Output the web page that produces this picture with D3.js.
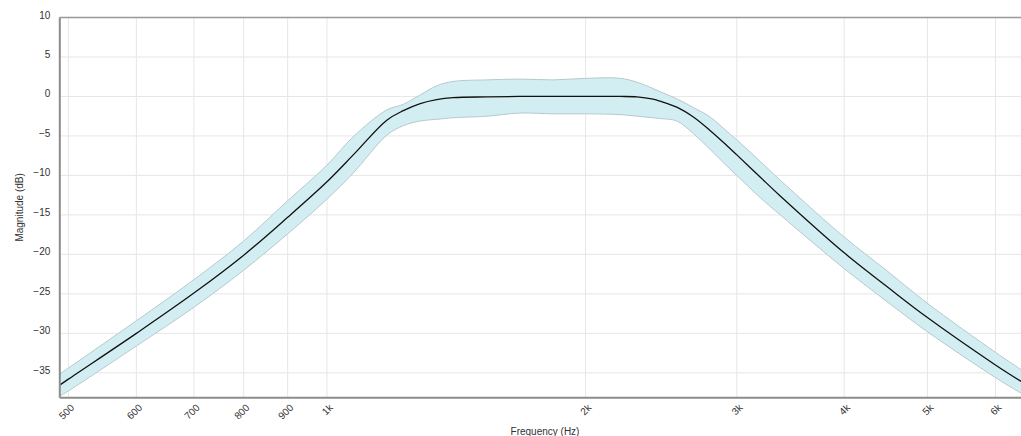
<!DOCTYPE html>
<html>
<head>
<meta charset="utf-8">
<script src="https://cdn.jsdelivr.net/npm/d3@7"></script>
<style>
  html, body { margin: 0; padding: 0; background: #fff; }
  svg { display: block; font-family: "Liberation Sans", Arial, sans-serif; }
</style>
</head>
<body>
<svg id="chart" width="1021" height="436"></svg>
<script>
// ---- data ----
const freqs   = [488, 500, 600, 700, 800, 900, 1000, 1073, 1174, 1227, 1284, 1342, 1402, 1535, 1678, 1833, 2008, 2194, 2296, 2397, 2443, 2554, 2670, 2792, 2920, 3000, 3193, 3370, 4000, 4489, 5000, 6000, 6430];
const meanDb  = [-36.6, -35.8, -30.0, -24.9, -20.1, -15.3, -10.8, -7.4, -3.0, -1.8, -0.9, -0.4, -0.15, -0.05, 0, 0, 0, 0, -0.05, -0.35, -0.6, -1.35, -2.6, -4.3, -6.2, -7.4, -10.2, -12.6, -19.8, -24.1, -28.0, -34.0, -36.1];
const upperDb = [-35.2, -34.4, -28.4, -23.2, -18.3, -13.2, -8.7, -5.1, -1.7, -1.0, 0.2, 1.35, 1.9, 2.1, 2.2, 2.1, 2.3, 2.3, 1.8, 1.0, 0.6, -0.3, -1.4, -2.6, -4.4, -5.5, -8.2, -10.6, -17.8, -22.1, -26.2, -32.4, -34.6];
const lowerDb = [-38.0, -37.3, -31.6, -26.7, -22.0, -17.4, -13.0, -9.7, -4.9, -3.7, -3.1, -2.9, -2.7, -2.5, -2.1, -2.2, -2.2, -2.3, -2.5, -2.7, -2.8, -3.1, -4.7, -6.7, -8.8, -10.0, -12.8, -15.0, -21.8, -26.0, -29.8, -35.6, -37.6];
const xTickValues = [500, 600, 700, 800, 900, 1000, 2000, 3000, 4000, 5000, 6000];
const xTickLabels = ["500", "600", "700", "800", "900", "1k", "2k", "3k", "4k", "5k", "6k"];
const yTickValues = [-35, -30, -25, -20, -15, -10, -5, 0, 5, 10];
const xTitle = "Frequency (Hz)";
const yTitle = "Magnitude (dB)";

// ---- layout ----
const W = 1021, H = 436;
const mLeft = 59.3, mTop = 17.5, mBottom = 397.3, rightRange = 1031;

const svg = d3.select("#chart");
const x = d3.scaleLog().domain([488, 6600]).range([mLeft, rightRange]);
const y = d3.scaleLinear().domain([-38.1, 10]).range([mBottom, mTop]);

const rows = freqs.map((f, i) => ({ f, m: meanDb[i], u: upperDb[i], l: lowerDb[i] }));

svg.append("defs").append("clipPath").attr("id", "plotclip")
  .append("rect").attr("x", mLeft).attr("y", mTop).attr("width", W - mLeft).attr("height", mBottom - mTop);

// grid
const grid = svg.append("g");
grid.selectAll("line.h").data(yTickValues).join("line")
  .attr("x1", mLeft).attr("x2", W)
  .attr("y1", d => y(d)).attr("y2", d => y(d))
  .attr("stroke", "#e6e6e6").attr("stroke-width", 1);
grid.selectAll("line.v").data(xTickValues).join("line")
  .attr("x1", d => x(d)).attr("x2", d => x(d))
  .attr("y1", mTop).attr("y2", mBottom)
  .attr("stroke", "#e6e6e6").attr("stroke-width", 1);

const plot = svg.append("g").attr("clip-path", "url(#plotclip)");

const curve = d3.curveCatmullRom.alpha(0.5);
const area = d3.area()
  .x(d => x(d.f)).y0(d => y(d.l)).y1(d => y(d.u))
  .curve(curve);
plot.append("path").datum(rows)
  .attr("d", area)
  .attr("fill", "#d3eef2").attr("stroke", "none");

const upLine = d3.line().x(d => x(d.f)).y(d => y(d.u)).curve(curve);
const loLine = d3.line().x(d => x(d.f)).y(d => y(d.l)).curve(curve);
plot.append("path").datum(rows).attr("d", upLine)
  .attr("fill", "none").attr("stroke", "#b4c9cc").attr("stroke-width", 1);
plot.append("path").datum(rows).attr("d", loLine)
  .attr("fill", "none").attr("stroke", "#b4c9cc").attr("stroke-width", 1);

const meanLine = d3.line().x(d => x(d.f)).y(d => y(d.m)).curve(curve);
plot.append("path").datum(rows).attr("d", meanLine)
  .attr("fill", "none").attr("stroke", "#111").attr("stroke-width", 1.3);

// border line on top
svg.append("line").attr("x1", mLeft).attr("x2", W).attr("y1", mTop).attr("y2", mTop)
  .attr("stroke", "#999").attr("stroke-width", 1.5);

// axes
const yAxis = d3.axisLeft(y).tickValues(yTickValues).tickSize(0).tickPadding(9);
const gy = svg.append("g").attr("transform", `translate(${mLeft},0)`).call(yAxis);
gy.select(".domain").attr("stroke", "#8c8c8c").attr("stroke-width", 2);
gy.selectAll(".tick text").attr("font-size", 10).attr("fill", "#333").attr("dy", "0.05em")
  .attr("font-family", "Liberation Sans, Arial, sans-serif");

const xAxis = d3.axisBottom(x).tickValues(xTickValues).tickSize(0)
  .tickFormat((d, i) => xTickLabels[i]);
const gx = svg.append("g").attr("transform", `translate(0,${mBottom})`).call(xAxis);
gx.select(".domain").attr("stroke", "#8c8c8c").attr("stroke-width", 2);
gx.selectAll(".tick text")
  .attr("font-size", 10).attr("fill", "#333")
  .attr("font-family", "Liberation Sans, Arial, sans-serif")
  .attr("text-anchor", "end")
  .attr("x", 0).attr("y", 0).attr("dy", 0)
  .attr("transform", "translate(6,11) rotate(-45)");

// titles
svg.append("text").attr("x", 545).attr("y", 435)
  .attr("text-anchor", "middle").attr("font-size", 10).attr("fill", "#333")
  .text(xTitle);
svg.append("text")
  .attr("transform", `translate(23,${(mTop + mBottom) / 2}) rotate(-90)`)
  .attr("text-anchor", "middle").attr("font-size", 10).attr("fill", "#333")
  .text(yTitle);
</script>
</body>
</html>
